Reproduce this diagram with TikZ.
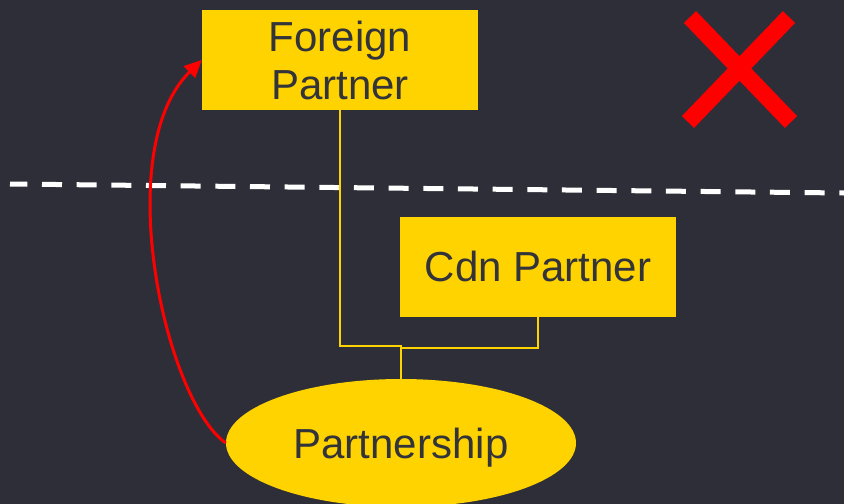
\documentclass[tikz,border=0pt]{standalone}
\usepackage{fontspec}
\setmainfont{Liberation Sans}
\usetikzlibrary{arrows.meta,shapes.geometric,positioning}
\definecolor{slate}{RGB}{46,46,56}
\definecolor{gold}{RGB}{255,211,0}
\definecolor{ink}{RGB}{51,51,58}
\tikzset{
    party/.style={fill=gold, text=ink, minimum width=207pt, minimum height=75pt, align=center,
        inner sep=0pt, font=\fontsize{31.5pt}{36pt}\selectfont},
    link/.style={draw=gold, line width=1.5pt},
}

\begin{document}
\begin{tikzpicture}[x=0.75pt, y=-0.75pt]
    \fill[slate] (0,0) rectangle (844,504);
    \useasboundingbox (0,0) rectangle (844,504);
    \draw[white, line width=3.75pt, dash pattern=on 15pt off 11pt, dash phase=2pt] (10,184)--(844,193);
    \node[party] (foreign) at (340,60) {Foreign\\Partner};
    \node[party] (cdn) at (538,266.5) {Cdn Partner};
    \node[party, ellipse, minimum width=262.5pt, minimum height=96pt, text depth=0pt] (partnership) at (401,443) {Partnership};
    \coordinate (joinA) at (401,346);
    \coordinate (joinB) at (401,348);
    \draw[link] (foreign.south) |- (joinA) -- (partnership.north);
    \draw[link] (cdn.south) |- (joinB);
    \draw[red, line width=2.25pt, -{Triangle[length=13pt,width=12pt]}] (partnership.west) .. controls (165,400) and (110,150) .. (foreign.west);
    \draw[red, line width=12.75pt] (690,17)--(791,122);
    \draw[red, line width=12.75pt] (789,17)--(688,122);
\end{tikzpicture}
\end{document}
